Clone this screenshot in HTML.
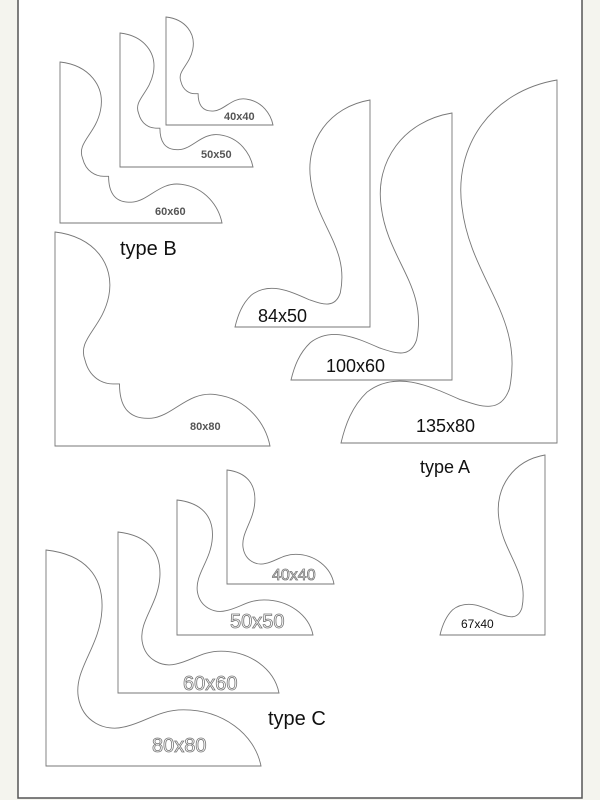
<!DOCTYPE html>
<html><head><meta charset="utf-8"><style>
html,body{margin:0;padding:0;background:#f4f4ee;}
svg{display:block}
</style></head><body>
<svg width="600" height="800" xmlns="http://www.w3.org/2000/svg" font-family="Liberation Sans, sans-serif">
<defs>
<path id="pA" vector-effect="non-scaling-stroke" d="M100,0 C70,3 52,18 56,35 C60,55 85,65 78,85 C74,92 65,90 55,88 C40,84 25,80 12,86 C5,90 2,95 0,100 L100,100 Z"/>
<path id="pB" vector-effect="non-scaling-stroke" d="M0,0 C18,2 28,15 25,30 C22,45 10,50 14,60 C16,68 22,71 27,71 L30,71 C30,80 33,88 45,87 C55,86 62,74 75,76 C90,78 98,90 100,100 L0,100 Z"/>
<path id="pC" vector-effect="non-scaling-stroke" d="M0,0 C18,2 27,12 26,28 C25,45 13,55 15,68 C17,80 28,84 36,82 C46,80 52,74 64,74 C82,74 97,85 100,100 L0,100 Z"/>
</defs>
<rect x="18" y="-2" width="564" height="800" fill="#fff" stroke="#555" stroke-width="1.5"/>
<g fill="#fff" stroke="#777" stroke-width="0.9">
<svg x="166" y="17" width="107" height="108" viewBox="0 0 100 100" preserveAspectRatio="none" overflow="visible"><use href="#pB"/></svg>
<svg x="120" y="33" width="133" height="134" viewBox="0 0 100 100" preserveAspectRatio="none" overflow="visible"><use href="#pB"/></svg>
<svg x="60" y="62" width="162" height="161" viewBox="0 0 100 100" preserveAspectRatio="none" overflow="visible"><use href="#pB"/></svg>
<svg x="55" y="232" width="215" height="214" viewBox="0 0 100 100" preserveAspectRatio="none" overflow="visible"><use href="#pB"/></svg>
<svg x="235" y="100" width="135" height="227" viewBox="0 0 100 100" preserveAspectRatio="none" overflow="visible"><use href="#pA"/></svg>
<svg x="291" y="113" width="161" height="267" viewBox="0 0 100 100" preserveAspectRatio="none" overflow="visible"><use href="#pA"/></svg>
<svg x="341" y="80" width="216" height="363" viewBox="0 0 100 100" preserveAspectRatio="none" overflow="visible"><use href="#pA"/></svg>
<svg x="440" y="455" width="105" height="180" viewBox="0 0 100 100" preserveAspectRatio="none" overflow="visible"><use href="#pA"/></svg>
<svg x="227" y="470" width="107" height="114" viewBox="0 0 100 100" preserveAspectRatio="none" overflow="visible"><use href="#pC"/></svg>
<svg x="177" y="500" width="136" height="135" viewBox="0 0 100 100" preserveAspectRatio="none" overflow="visible"><use href="#pC"/></svg>
<svg x="118" y="532" width="161" height="161" viewBox="0 0 100 100" preserveAspectRatio="none" overflow="visible"><use href="#pC"/></svg>
<svg x="46" y="550" width="215" height="216" viewBox="0 0 100 100" preserveAspectRatio="none" overflow="visible"><use href="#pC"/></svg>
</g>
<g fill="#111">
<text x="120" y="255" font-size="20">type B</text>
<text x="258" y="322" font-size="18">84x50</text>
<text x="326" y="372" font-size="18">100x60</text>
<text x="416" y="432" font-size="18">135x80</text>
<text x="420" y="473" font-size="18">type A</text>
<text x="461" y="628" font-size="12">67x40</text>
<text x="268" y="725" font-size="20">type C</text>
</g>
<g fill="#555" font-size="11" font-weight="bold">
<text x="224" y="120">40x40</text>
<text x="201" y="158">50x50</text>
<text x="155" y="215">60x60</text>
<text x="190" y="430">80x80</text>
</g>
<g fill="#fff" stroke="#777" stroke-width="0.8">
<text x="272" y="580" font-size="16">40x40</text>
<text x="230" y="628" font-size="20">50x50</text>
<text x="183" y="690" font-size="20">60x60</text>
<text x="152" y="752" font-size="20">80x80</text>
</g>
</svg>
</body></html>
